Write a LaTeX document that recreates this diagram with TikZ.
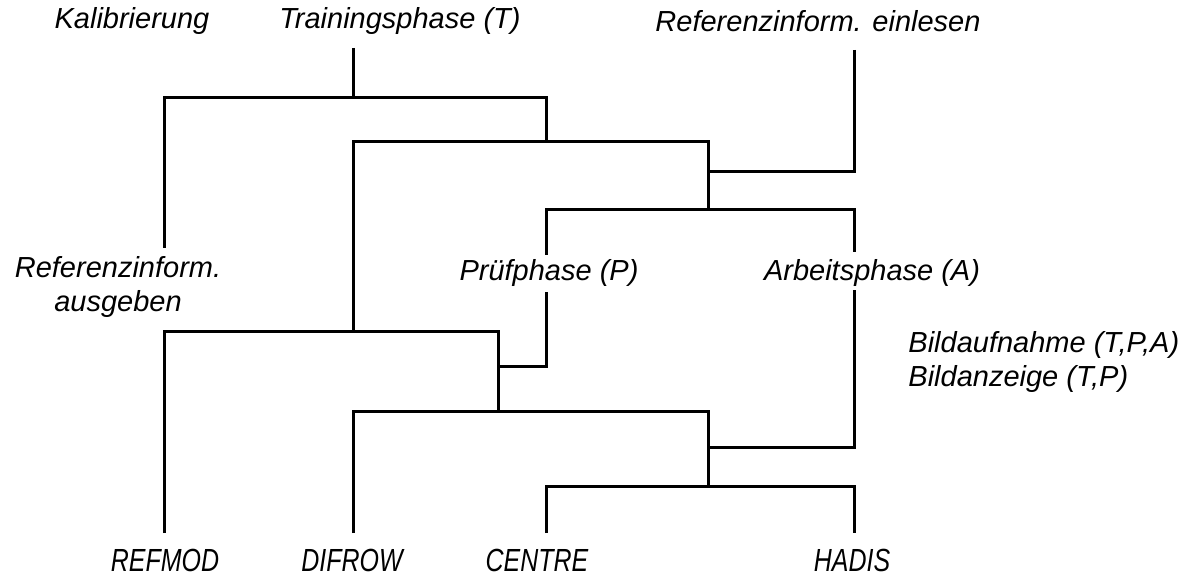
\documentclass[tikz,border=0pt]{standalone}
\usepackage{fontspec}
\setmainfont{Liberation Sans}
\newfontfamily\condfont[FakeStretch=0.78]{Liberation Sans}
\begin{document}
\begin{tikzpicture}[x=0.5pt,y=-0.5pt,
  wire/.style={line width=1.5pt, line join=miter, line cap=butt},
  lbl/.style={font=\fontsize{14.5}{17}\selectfont\itshape, inner sep=0pt},
  caplbl/.style={font=\condfont\fontsize{16}{18}\selectfont\itshape, inner sep=0pt}]
\useasboundingbox (0,0) rectangle (1193,577);
% labels
\node[lbl] (kal) at (132,21) {Kalibrierung};
\node[lbl] (tra) at (400,21) {Trainingsphase (T)};
\node[lbl] (ein) at (818,21) {Referenzinform. einlesen};
\node[lbl, align=center] (aus) at (118,287) {Referenzinform.\\ausgeben};
\node[lbl] (pru) at (549,273) {Prüfphase (P)};
\node[lbl] (arb) at (872,273) {Arbeitsphase (A)};
\node[lbl, align=left, anchor=west] (bild) at (908,362) {Bildaufnahme (T,P,A)\\Bildanzeige (T,P)};
\node[caplbl] (ref) at (165,560) {REFMOD};
\node[caplbl] (dif) at (352,560) {DIFROW};
\node[caplbl] (cen) at (537,560) {CENTRE};
\node[caplbl] (had) at (852,560) {HADIS};
% end points
\coordinate (traE) at (353,48);
\coordinate (einE) at (854,50);
\coordinate (ausE) at (164,248);
\coordinate (pruT) at (546,255);
\coordinate (pruB) at (546,292);
\coordinate (arbT) at (854,252);
\coordinate (arbB) at (854,290);
\coordinate (refE) at (164,533);
\coordinate (difE) at (353,533);
\coordinate (cenE) at (546,533);
\coordinate (hadE) at (854,533);
% junctions
\coordinate (j1) at (353,98);
\coordinate (j2) at (546,142);
\coordinate (j3) at (708,172);
\coordinate (j4) at (708,210);
\coordinate (j5) at (353,331);
\coordinate (j6) at (498,366);
\coordinate (j7) at (498,411);
\coordinate (j8) at (708,447);
\coordinate (j9) at (708,486);
% tree
\draw[wire] (traE) -- (j1);
\draw[wire] (ausE) |- (j1) -| (j2);
\draw[wire] (j5) |- (j2) -| (j4);
\draw[wire] (einE) |- (j3);
\draw[wire] (pruT) |- (j4) -| (arbT);
\draw[wire] (refE) |- (j5) -| (j7);
\draw[wire] (pruB) |- (j6);
\draw[wire] (difE) |- (j7) -| (j9);
\draw[wire] (arbB) |- (j8);
\draw[wire] (cenE) |- (j9) -| (hadE);
\end{tikzpicture}
\end{document}
